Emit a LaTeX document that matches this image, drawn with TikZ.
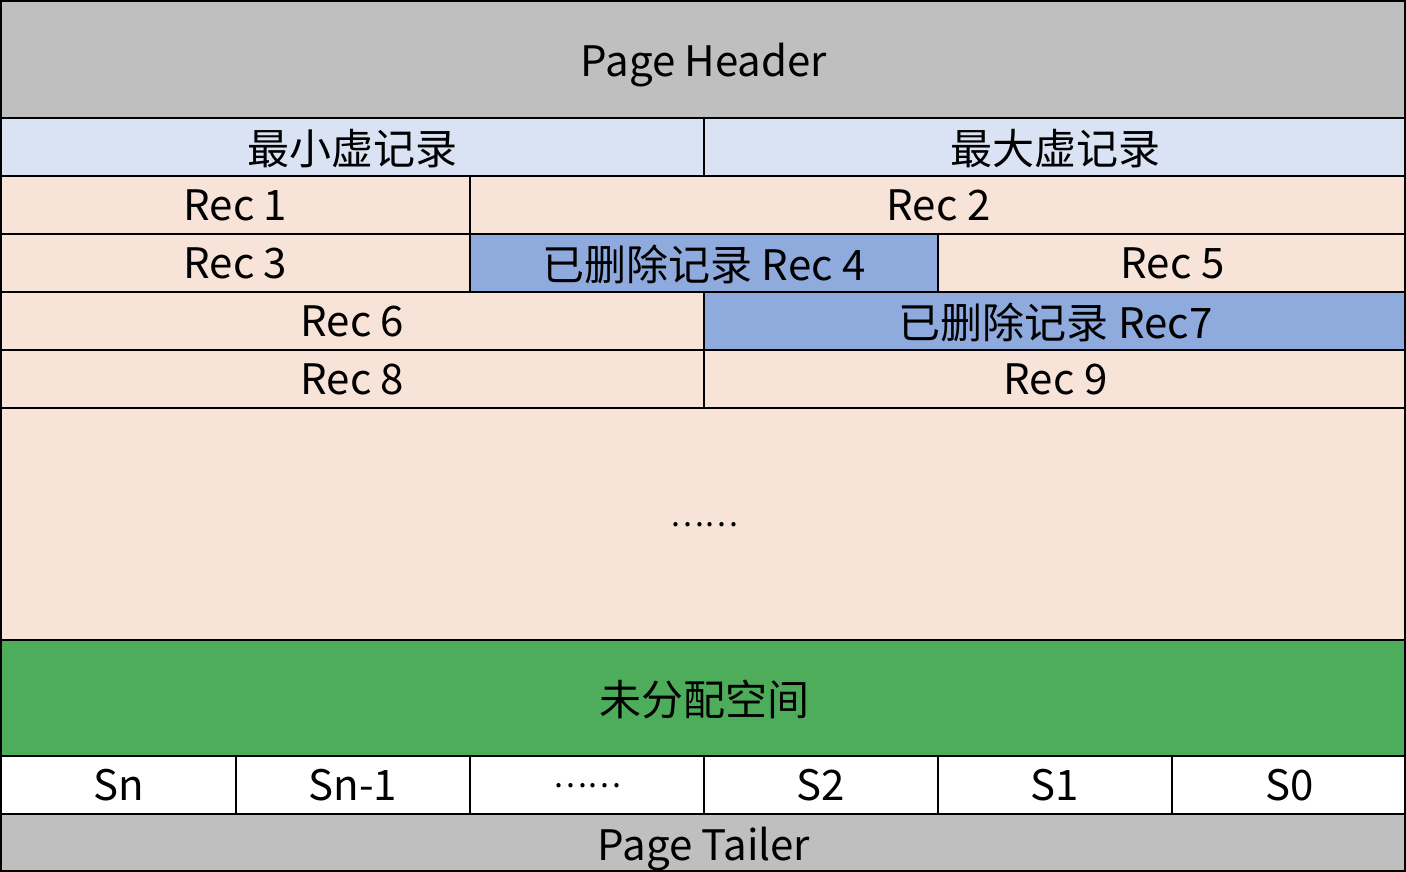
\documentclass[tikz,border=0pt]{standalone}
\usepackage{fontspec}
\setmainfont{Noto Sans CJK SC}
\usetikzlibrary{positioning}
\definecolor{hdrgray}{HTML}{BFBFBF}
\definecolor{virtblue}{HTML}{DAE3F3}
\definecolor{recpeach}{HTML}{F8E3D8}
\definecolor{delblue}{HTML}{8FAADC}
\definecolor{freegreen}{HTML}{4EAD5B}

\begin{document}
\begin{tikzpicture}[x=1pt,y=-1pt,line width=2pt,font=\fontsize{42}{50}\selectfont,cell/.style={draw,anchor=north west,inner sep=0pt,text depth=0pt,fill=recpeach},wh/.style 2 args={minimum width=#1pt,minimum height=#2pt},del/.style={fill=delblue}]
\useasboundingbox (0,0) rectangle (1406,872);
\node[cell,fill=hdrgray,wh={1406}{117}] (header) at (0,0) {Page Header};
\node[cell,fill=virtblue,wh={703}{58}] (infimum) at (0,117) {最小虚记录};
\node[cell,fill=virtblue,wh={703}{58}] (supremum) at (703,117) {最大虚记录};
\node[cell,wh={469}{58}] (rec1) at (0,175) {Rec 1};
\node[cell,wh={937}{58}] (rec2) at (469,175) {Rec 2};
\node[cell,wh={469}{58}] (rec3) at (0,233) {Rec 3};
\node[cell,del,wh={468}{58}] (rec4) at (469,233) {已删除记录 Rec 4};
\node[cell,wh={469}{58}] (rec5) at (937,233) {Rec 5};
\node[cell,wh={703}{58}] (rec6) at (0,291) {Rec 6};
\node[cell,del,wh={703}{58}] (rec7) at (703,291) {已删除记录 Rec7};
\node[cell,wh={703}{58}] (rec8) at (0,349) {Rec 8};
\node[cell,wh={703}{58}] (rec9) at (703,349) {Rec 9};
\node[cell,wh={1406}{232}] (more) at (0,407) {\fontsize{32}{38}\selectfont ……};
\node[cell,fill=freegreen,wh={1406}{116}] (free) at (0,639) {未分配空间};
\foreach \x/\w/\n/\t in {0/235/sn/Sn,235/234/snm/Sn-1,469/234/sdots/{\fontsize{32}{38}\selectfont ……},703/234/s2/S2,937/234/s1/S1,1171/235/s0/S0}
  \node[cell,fill=white,wh={\w}{58}] (\n) at (\x,755) {\t};
\node[cell,fill=hdrgray,wh={1406}{59}] (tailer) at (0,813) {Page Tailer};
\draw (1,1) rectangle (1405,871);
\end{tikzpicture}
\end{document}
